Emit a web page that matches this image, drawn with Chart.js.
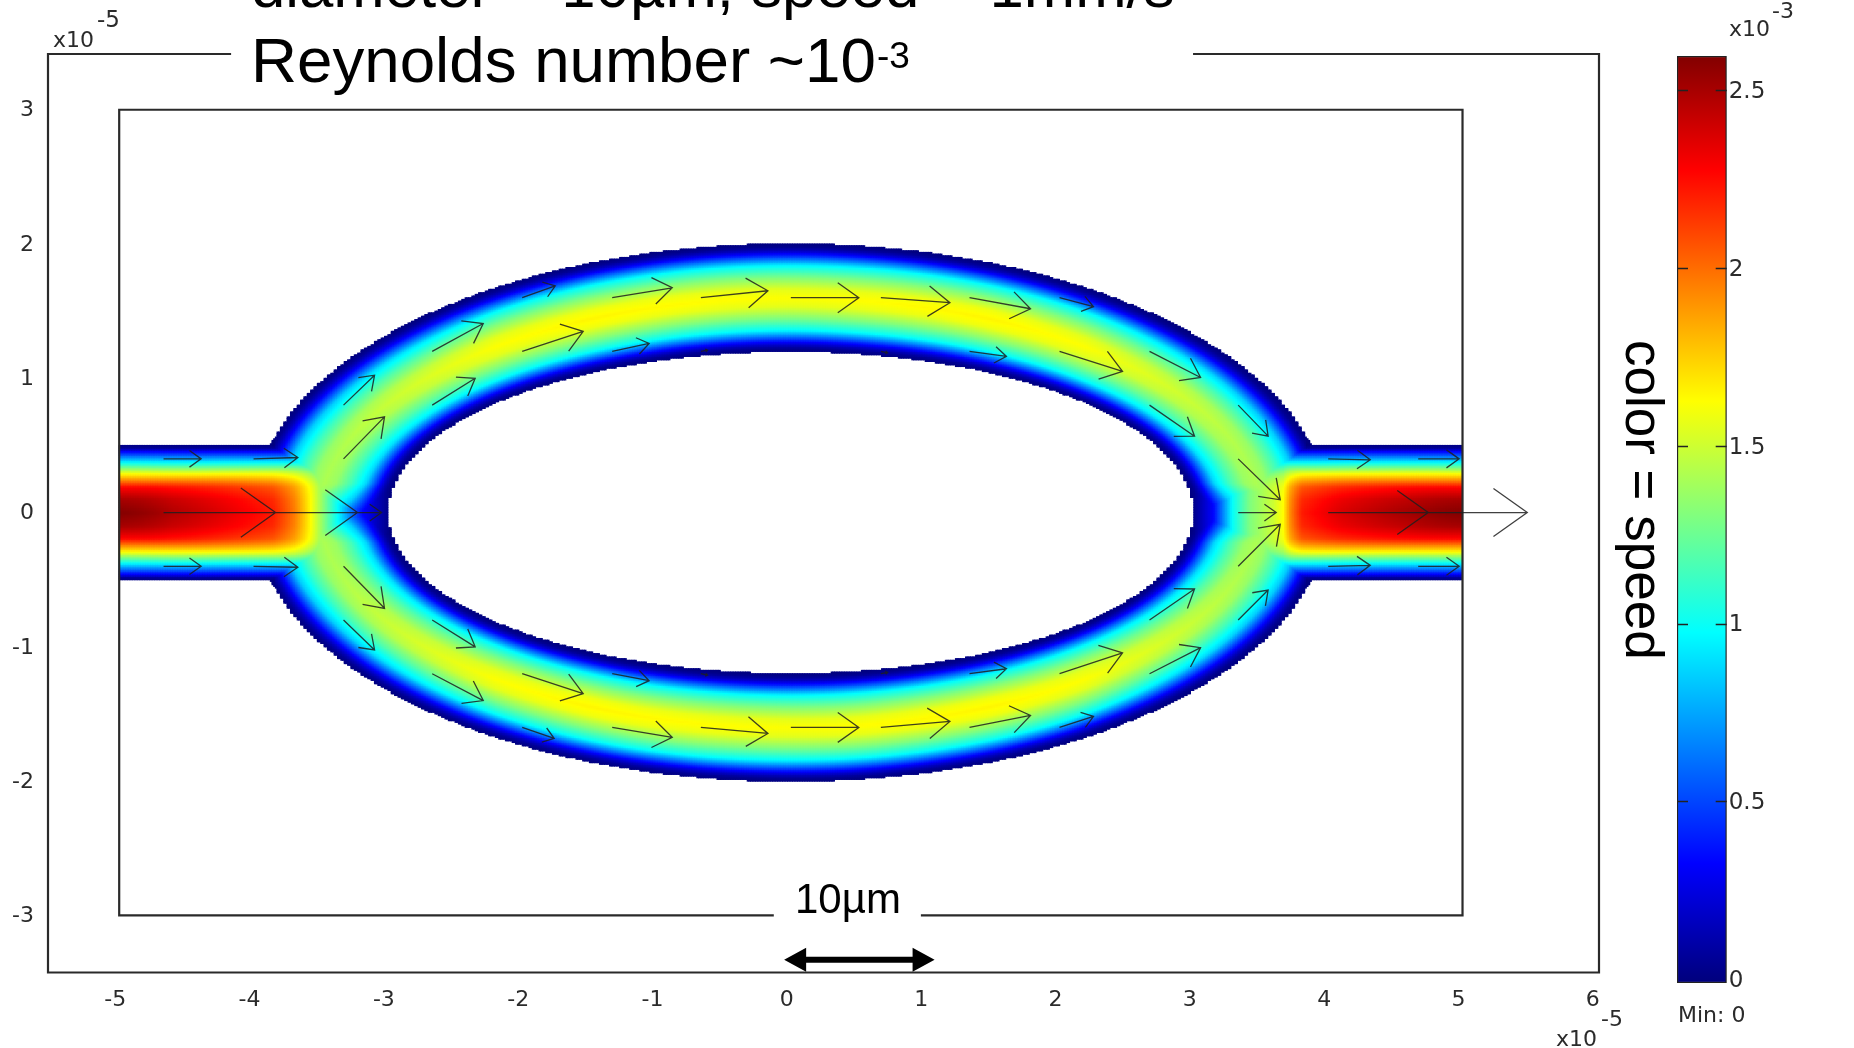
<!DOCTYPE html>
<html>
<head>
<meta charset="utf-8">
<style>
html,body{margin:0;padding:0;background:#fff;overflow:hidden;width:1854px;height:1048px}
canvas{position:absolute;top:0}
#main{left:0}
#bar{left:1600px}
</style>
<script src="https://cdn.jsdelivr.net/npm/chart.js@4"></script>
</head>
<body>
<canvas id="main" width="1854" height="1048"></canvas>
<canvas id="bar" width="254" height="1048"></canvas>
<script>
// ---------- axis data (units of 1e-5) ----------
const xTicks = [-5,-4,-3,-2,-1,0,1,2,3,4,5,6];
const yTicks = [-3,-2,-1,0,1,2,3];
const xRange = [-5.53, 6.016];
const yRange = [-3.425, 3.415];
const barTicks = [0,0.5,1,1.5,2,2.5];
const barRange = [-0.011, 2.596];

// ---------- jet colour scale (speed, units of 1e-3) ----------
const jetSpeed = [0, 0.325, 0.975, 1.625, 2.275, 2.6];
const jetColor = [[0,0,128],[0,0,255],[0,255,255],[255,255,0],[255,0,0],[128,0,0]];

// ---------- channel geometry ----------
const outerEllipse = [4.0, 2.0];
const innerEllipse = [3.0, 1.2];
const channelHalf = 0.5;
const junctionX = 3.84;
const domainX = [-5, 5];
const domainY = [-3, 3];

// ---------- speed read across the ring, the channels and along the axis ----------
const ringFrac  = [0, 0.03, 0.06, 0.09, 0.20, 0.31, 0.42, 0.5];
const ringShape = [0, 0.03, 0.10, 0.20, 0.60, 0.80, 0.96, 1.0];
const peakX = [0, 1.5, 2.2, 2.8, 3.4, 4.0];
const peakV = [1.62, 1.65, 1.62, 1.52, 1.42, 1.40];
const channelFrac = [0, 0.04, 0.08, 0.25, 0.42, 0.62, 0.8, 1];
const channelV    = [0, 0.08, 0.30, 0.975, 1.63, 2.27, 2.5, 2.6];
const leftJetX  = [-5, -4.6, -4.2, -3.85, -3.69, -3.57, -3.37, -3.18, -2.98];
const leftJetV  = [3.4, 2.9, 2.6, 2.35, 2.0, 1.63, 0.98, 0.33, 0];
const rightJetX = [2.99, 3.15, 3.29, 3.42, 3.6, 3.67, 3.72, 3.81, 4.1, 4.6, 5];
const rightJetV = [0, 0.33, 0.98, 1.3, 1.5, 1.63, 1.95, 2.35, 2.65, 3.0, 3.4];

// ---------- velocity arrows: tail position and vector (units of 1e-5) ----------
const tailX = [-4.67,-4,-3.33, -4.67,-4,-3.33,3.33,4,4.67, -3.33,-2.67,2.67,3.33,
  -2.67,-2,-1.33,-0.67,0.67,1.33,2,2.67, -2,-1.33,-0.67,0,0.67,1.33,2,
  3.33,4,4.67, -4.67,-4,-3.33,3.33,4,4.67, -3.33,-2.67,2.67,3.33,
  -2.67,-2,-1.33,-0.67,0.67,1.33,2,2.67, -2,-1.33,-0.67,0,0.67,1.33,2];
const tailY = [0,0,0, 0.4,0.4,0.4,0.4,0.4,0.4, 0.8,0.8,0.8,0.8,
  1.2,1.2,1.2,1.2,1.2,1.2,1.2,1.2, 1.6,1.6,1.6,1.6,1.6,1.6,1.6,
  0,0,0, -0.4,-0.4,-0.4,-0.4,-0.4,-0.4, -0.8,-0.8,-0.8,-0.8,
  -1.2,-1.2,-1.2,-1.2,-1.2,-1.2,-1.2,-1.2, -1.6,-1.6,-1.6,-1.6,-1.6,-1.6,-1.6];
const vecU = [0.834,0.774,0.283, 0.28,0.33,0.305,0.313,0.313,0.305, 0.231,0.32,0.335,0.223,
  0.38,0.454,0.275,0.05,0.05,0.275,0.469,0.38, 0.246,0.447,0.499,0.506,0.514,0.454,0.253,
  0.283,0.745,0.812, 0.28,0.33,0.305,0.313,0.313,0.305, 0.231,0.32,0.335,0.223,
  0.38,0.454,0.275,0.05,0.05,0.275,0.469,0.38, 0.238,0.447,0.499,0.506,0.514,0.454,0.253];
const vecV = [0,0,0, 0,0.01,0.313,-0.305,-0.007,0, 0.223,0.2,-0.231,-0.231,
  0.208,0.149,0.06,0.01,-0.01,-0.037,-0.149,-0.194, 0.089,0.074,0.052,0,-0.037,-0.082,-0.067,
  0,0,0, 0,-0.007,-0.313,0.313,0.007,0, -0.223,-0.2,0.231,0.223,
  -0.2,-0.149,-0.052,-0.01,0.01,0.037,0.156,0.194, -0.082,-0.074,-0.045,0,0.045,0.089,0.082];
const headBack = 0.31, headSide = 0.22;

// ---------- scale bar ----------
const scaleBarX = [-0.05, 1.07];
const scaleBarY = -3.33;

// ---------- line gaps (white under title and under 10µm) ----------
const frameGapX = [-4.167, 2.994];
const domainGapX = [-0.127, 0.968];

// ---------- helpers ----------
function lookup(xs, vs, x){
  if (x <= xs[0]) return vs[0];
  for (let i = 1; i < xs.length; i++){
    if (x <= xs[i]) return vs[i-1] + (vs[i]-vs[i-1])*(x-xs[i-1])/(xs[i]-xs[i-1]);
  }
  return vs[vs.length-1];
}
function jet(v){
  const c = [0,1,2].map(k => Math.round(lookup(jetSpeed, jetColor.map(p=>p[k]), v)));
  return `rgb(${c[0]},${c[1]},${c[2]})`;
}
function speedAt(x, y){
  const ax = Math.abs(x), ay = Math.abs(y);
  let ring = 0;
  if (ax <= junctionX){
    const so = Math.hypot(x/outerEllipse[0], y/outerEllipse[1]);
    const si = Math.hypot(x/innerEllipse[0], y/innerEllipse[1]);
    const t = (1-1/si)/(1/so-1/si);
    const scale = 0.5 + 0.5*Math.min(1, ay/0.22);
    const d = Math.min(t*scale, 1-t);
    ring = lookup(peakX, peakV, ax) * lookup(ringFrac, ringShape, d);
  }
  const vy = ay < channelHalf ? lookup(channelFrac, channelV, (channelHalf-ay)/channelHalf) : 0;
  const vx = x < 0 ? lookup(leftJetX, leftJetV, x) : lookup(rightJetX, rightJetV, x);
  const k = 1.0, h = Math.max(k-Math.abs(vx-vy),0)/k;
  const core = Math.min(vx,vy) - h*h*k/4;
  return Math.min(2.6, Math.max(0, ring, core));
}
function insideChannel(x, y){
  const ax = Math.abs(x), ay = Math.abs(y);
  if (ay <= channelHalf && ax >= junctionX) return true;
  const so = Math.hypot(x/outerEllipse[0], y/outerEllipse[1]);
  const si = Math.hypot(x/innerEllipse[0], y/innerEllipse[1]);
  return so <= 1 && si >= 1;
}

// speed cells on a fine grid, outline snapped to a coarser mesh
const cellStep = 0.0125, meshStep = 0.025;
const snap = v => (Math.floor(v/meshStep)+0.5)*meshStep;
const cellPts = [], cellColors = [];
for (let i = 0; i < 800; i++){
  const x = domainX[0] + cellStep*(i+0.5);
  for (let j = -164; j < 164; j++){
    const y = cellStep*(j+0.5);
    if (insideChannel(Math.abs(x)>=junctionX ? x : snap(x), y)){
      cellPts.push({x,y});
      cellColors.push(jet(speedAt(x,y)));
    }
  }
}

// arrows as one polyline dataset with gaps
const arrowPts = [];
tailX.forEach((tx,i)=>{
  const ty = tailY[i], u = vecU[i], v = vecV[i];
  const hx = tx+u, hy = ty+v;
  arrowPts.push({x:tx,y:ty},{x:hx,y:hy},{x:null,y:null});
  arrowPts.push({x:hx-headBack*u-headSide*v,y:hy-headBack*v+headSide*u},{x:hx,y:hy},
                {x:hx-headBack*u+headSide*v,y:hy-headBack*v-headSide*u},{x:null,y:null});
});
const framePts = [
  {x:frameGapX[0],y:yRange[1]},{x:xRange[0],y:yRange[1]},{x:xRange[0],y:yRange[0]},
  {x:xRange[1],y:yRange[0]},{x:xRange[1],y:yRange[1]},{x:frameGapX[1],y:yRange[1]}];
const domainPts = [
  {x:domainGapX[0],y:domainY[0]},{x:domainX[0],y:domainY[0]},{x:domainX[0],y:domainY[1]},
  {x:domainX[1],y:domainY[1]},{x:domainX[1],y:domainY[0]},{x:domainGapX[1],y:domainY[0]}];

const numFont = '"DejaVu Sans"';
const txtFont = '"Liberation Sans"';
const tickColor = '#2b2b2b';

const annotate = {
  id:'annotate',
  afterDraw(chart){
    const {ctx, scales:{x:sx,y:sy}} = chart;
    ctx.save();
    // scale bar
    const x0 = sx.getPixelForValue(scaleBarX[0]), x1 = sx.getPixelForValue(scaleBarX[1]);
    const yc = sy.getPixelForValue(scaleBarY);
    ctx.fillStyle = '#000';
    ctx.fillRect(x0+20, yc-3, x1-x0-40, 6);
    ctx.beginPath();
    ctx.moveTo(x0,yc);ctx.lineTo(x0+22,yc-12);ctx.lineTo(x0+22,yc+12);ctx.closePath();
    ctx.moveTo(x1,yc);ctx.lineTo(x1-22,yc-12);ctx.lineTo(x1-22,yc+12);ctx.closePath();
    ctx.fill();
    ctx.textBaseline = 'alphabetic';
    ctx.textAlign = 'left';
    ctx.fillStyle = '#000';
    // titles
    ctx.font = `61.7px ${txtFont}`;
    ctx.fillText('diameter = 10µm, speed = 1mm/s', 251, 7);
    ctx.font = `63.7px ${txtFont}`;
    ctx.fillText('Reynolds number ~10', 251, 82);
    ctx.font = `37px ${txtFont}`;
    ctx.fillText('-3', 877, 68);
    ctx.font = `42px ${txtFont}`;
    ctx.fillText('10µm', 795, 913);
    // rotated label
    ctx.save();
    ctx.translate(1626, 340);
    ctx.rotate(Math.PI/2);
    ctx.font = `53px ${txtFont}`;
    ctx.fillText('color = speed', 0, 0);
    ctx.restore();
    // exponents
    ctx.fillStyle = tickColor;
    ctx.font = `22px ${numFont}`;
    ctx.fillText('x10', 53, 47);
    ctx.font = `23px ${numFont}`;
    ctx.fillText('-5', 97, 27);
    ctx.font = `22px ${numFont}`;
    ctx.fillText('x10', 1556, 1046);
    ctx.fillText('-5', 1601, 1026);
    ctx.fillText('x10', 1729, 36);
    ctx.fillText('-3', 1772, 18);
    ctx.fillText('Min: 0', 1678, 1022);
    ctx.restore();
  }
};

new Chart(document.getElementById('main'), {
  type:'scatter',
  data:{datasets:[
    {label:'arrows', data:arrowPts, showLine:true, spanGaps:false, pointRadius:0, borderColor:'rgba(30,30,30,0.85)', borderWidth:1.3, order:1, clip:false},
    {label:'domain', data:domainPts, showLine:true, pointRadius:0, borderColor:'#2a2a2a', borderWidth:2.2, order:2, clip:false},
    {label:'frame', data:framePts, showLine:true, pointRadius:0, borderColor:'#2a2a2a', borderWidth:2.2, order:3, clip:false},
    {label:'speed', data:cellPts, pointStyle:'rect', pointRadius:1.9, pointBorderWidth:0, pointBackgroundColor:cellColors, order:4, clip:false}
  ]},
  plugins:[annotate],
  options:{
    responsive:false, animation:false, devicePixelRatio:1,
    layout:{padding:{left:0,right:255,top:54,bottom:0}},
    plugins:{legend:{display:false},tooltip:{enabled:false},title:{display:false}},
    elements:{line:{tension:0}},
    scales:{
      x:{type:'linear',min:xRange[0],max:xRange[1],
        grid:{display:false,drawTicks:false},border:{display:false},
        afterBuildTicks(s){s.ticks=xTicks.map(v=>({value:v}));},
        afterFit(s){s.height=75.5;},
        ticks:{autoSkip:false,maxRotation:0,padding:15,labelOffset:-4,color:tickColor,font:{family:'DejaVu Sans',size:22},callback:v=>String(v)}},
      y:{type:'linear',min:yRange[0],max:yRange[1],
        grid:{display:false,drawTicks:false},border:{display:false},
        afterBuildTicks(s){s.ticks=yTicks.map(v=>({value:v}));},
        afterFit(s){s.width=48;},
        ticks:{autoSkip:false,padding:14,labelOffset:1,color:tickColor,font:{family:'DejaVu Sans',size:22},callback:v=>String(v)}}
    }
  }
});

// ---------- colour bar ----------
const barTickMarks = {
  id:'barTickMarks',
  afterDatasetsDraw(chart){
    const {ctx, chartArea:a, scales:{y}} = chart;
    ctx.save();
    ctx.strokeStyle = '#222';
    ctx.lineWidth = 1.5;
    barTicks.slice(1).forEach(v=>{
      const p = Math.round(y.getPixelForValue(v))+0.5;
      ctx.beginPath();
      ctx.moveTo(a.left,p);ctx.lineTo(a.left+11,p);
      ctx.moveTo(a.right-11,p);ctx.lineTo(a.right,p);
      ctx.stroke();
    });
    ctx.restore();
  }
};
new Chart(document.getElementById('bar'), {
  type:'bar',
  data:{labels:['speed'],datasets:[{
    data:[barRange],
    barPercentage:1,categoryPercentage:1,
    borderColor:'#222',borderWidth:1.5,borderSkipped:false,
    backgroundColor(ctx){
      const ch = ctx.chart, a = ch.chartArea;
      if(!a) return '#000';
      const ys = ch.scales.y;
      const g = ch.ctx.createLinearGradient(0,ys.getPixelForValue(barRange[0]),0,ys.getPixelForValue(barRange[1]));
      const span = barRange[1]-barRange[0];
      jetSpeed.forEach(v=>{
        const f = (v-barRange[0])/span;
        if (f<=1) g.addColorStop(f,jet(v));
      });
      g.addColorStop(1,jet(barRange[1]));
      return g;
    }
  }]},
  plugins:[barTickMarks],
  options:{
    responsive:false, animation:false, devicePixelRatio:1,
    layout:{padding:{left:77,right:0,top:56,bottom:65}},
    plugins:{legend:{display:false},tooltip:{enabled:false}},
    scales:{
      x:{display:false},
      y:{type:'linear',position:'right',min:barRange[0],max:barRange[1],
        grid:{display:false,drawTicks:false},border:{display:false},
        afterBuildTicks(s){s.ticks=barTicks.map(v=>({value:v}));},
        afterFit(s){s.width=127.3;},
        ticks:{autoSkip:false,padding:2,labelOffset:2,color:tickColor,font:{family:'DejaVu Sans',size:23},callback:v=>String(v)}}
    }
  }
});
</script>
</body>
</html>
